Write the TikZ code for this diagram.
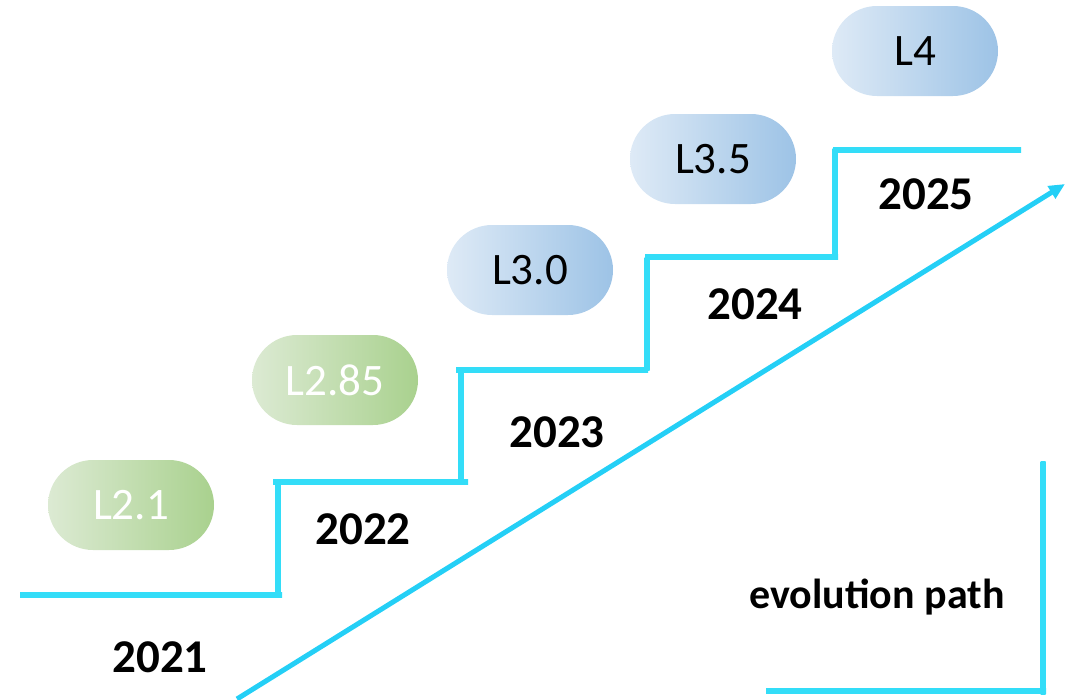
\documentclass[tikz,border=0pt]{standalone}
\usepackage{fontspec}
\setmainfont{Carlito}
\usepackage{xcolor}
\usetikzlibrary{arrows.meta,positioning}

\definecolor{stepcyan}{HTML}{33DDF8}
\definecolor{stepblue}{HTML}{00B0F0}
\definecolor{greenlight}{HTML}{DCEAD3}
\definecolor{greendark}{HTML}{A9D18E}
\definecolor{bluelight}{HTML}{DEEAF6}
\definecolor{bluedark}{HTML}{9DC3E6}

\begin{document}
\begin{tikzpicture}[x=1pt, y=-1pt,
    pill/.style={minimum width=166pt, minimum height=90pt, rounded corners=45pt,
        inner sep=0pt, font=\fontsize{45}{54}\selectfont},
    greenpill/.style={pill, left color=greenlight, right color=greendark, text=white},
    bluepill/.style={pill, left color=bluelight, right color=bluedark, text=black},
    year/.style={font=\fontsize{47}{56}\selectfont\bfseries, inner sep=0pt},
    hbar/.style={left color=stepcyan, middle color=stepblue, right color=stepcyan},
    vbar/.style={top color=stepcyan, middle color=stepblue, bottom color=stepcyan}]
    \useasboundingbox (0,0) rectangle (1071,699);
    % stairs: horizontal treads, then vertical risers
    \foreach \xa/\xb/\y in {20/282/595, 273/468/482, 456/648/370, 645/838/257, 833/1021/150} {
        \shade[hbar] (\xa,\y-2.5) rectangle (\xb,\y+2.5);
    }
    \foreach \x/\ya/\yb in {278/482/595, 461/370/482, 647/257/370, 835/148/257} {
        \shade[vbar] (\x-2.5,\ya) rectangle (\x+2.5,\yb);
    }
    % bracket bottom right
    \shade[vbar] (1040.5,461) rectangle (1045.5,694);
    \shade[hbar] (766,688.5) rectangle (1046,693.5);
    % levels
    \node[greenpill] (l21) at (131,505) {L2.1};
    \node[greenpill] (l285) at (335,380) {L2.85};
    \node[bluepill] (l30) at (530,270) {L3.0};
    \node[bluepill] (l35) at (713,159) {L3.5};
    \node[bluepill] (l4) at (915,51) {L4};
    % years
    \foreach \x/\y/\t in {160/657/2021, 363/529/2022, 557/432/2023, 755/304/2024, 926/194/2025} {
        \node[year] (y\t) at (\x,\y) {\t};
    }
    \node[font=\fontsize{42}{50}\selectfont\bfseries, inner sep=0pt] (evo) at (877,597) {evolution path};
    % trend arrow
    \coordinate (trendstart) at (237,699);
    \coordinate (trendend) at (1065,184);
    \draw[line width=5pt, color=stepcyan!70!stepblue, -{Triangle[length=16pt, width=14pt]}] (trendstart) -- (trendend);
\end{tikzpicture}
\end{document}
